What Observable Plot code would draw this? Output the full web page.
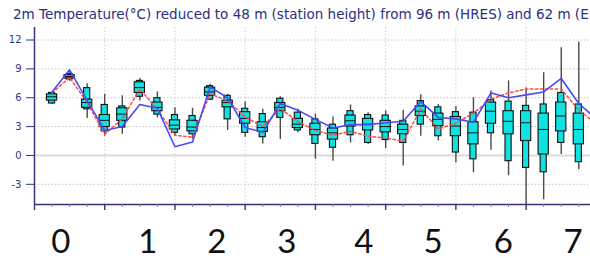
<!DOCTYPE html>
<html><head><meta charset="utf-8">
<script src="https://cdn.jsdelivr.net/npm/d3@7"></script>
<script src="https://cdn.jsdelivr.net/npm/@observablehq/plot@0.6"></script>
<style>
body{margin:0;background:#fff;}
#wrap{position:relative;width:590px;height:258px;overflow:hidden;}
#title{position:absolute;left:13px;top:6px;width:577px;overflow:hidden;white-space:nowrap;font:13.5px "DejaVu Sans";color:#2e2e80;}
#chart{position:absolute;left:0;top:0;}
</style></head><body>
<div id="wrap"><div id="chart"></div><div id="title"></div></div>
<script>
const titleText = "2m Temperature(°C) reduced to 48 m (station height) from 96 m (HRES) and 62 m (ENS)";
// forecast steps (hours) of the ensemble boxes
const boxHours = [6,12,18,24,30,36,42,48,54,60,66,72,78,84,90,96,102,108,114,120,126,132,138,144,150,156,162,168,174,180,186];
const ensMin = [5.3,7.7,3.85,2.0,2.2,5.65,3.9,2.0,1.7,5.7,2.6,1.9,1.2,1.65,2.35,-0.4,-0.6,1.3,1.15,0.7,-1.1,2.0,1.5,-0.75,-1.8,0.55,-2.1,-5.8,-4.6,0.1,-1.5];
const ensP10 = [5.4,7.9,4.8,2.5,2.9,6.1,4.25,2.35,2.2,5.8,3.75,2.35,1.9,3.9,2.6,1.2,0.8,2.1,1.3,1.6,1.3,3.2,2.0,0.3,-0.4,2.3,-0.6,-1.3,-1.75,1.3,-0.7];
const ensP25 = [5.7,8.0,4.95,2.95,3.6,6.5,4.6,2.7,2.5,6.2,5.0,3.3,2.45,4.6,2.85,2.1,1.65,3.0,2.6,2.4,2.2,4.1,3.05,2.0,1.15,3.3,2.2,1.5,0.1,2.5,1.15];
const ensMed = [6.1,8.2,5.5,3.65,4.3,7.05,5.0,3.15,2.95,6.6,5.5,3.85,2.9,5.0,3.25,2.7,2.35,3.6,3.25,3.0,2.7,4.6,3.75,3.05,2.35,4.6,3.55,3.4,2.7,4.1,2.7];
const ensP75 = [6.35,8.35,5.8,4.2,4.9,7.6,5.5,3.65,3.6,7.05,5.7,4.5,3.45,5.45,3.8,3.3,2.8,4.15,3.8,3.6,3.2,5.1,4.35,4.0,3.45,5.5,4.6,4.6,4.35,5.5,4.35];
const ensP90 = [6.5,8.45,7.0,5.25,5.1,7.75,5.95,4.2,4.1,7.2,6.2,4.85,4.3,5.9,4.45,3.75,3.2,4.6,4.2,4.15,3.6,5.65,5.0,4.5,4.45,5.75,5.6,5.15,5.3,6.5,5.3];
const ensMax = [6.6,8.6,7.45,6.35,6.2,8.0,6.6,4.95,4.9,7.4,6.35,5.55,4.8,6.1,4.8,4.3,4.0,5.25,4.45,4.65,4.7,6.3,5.3,5.1,6.0,6.7,7.75,7.0,8.6,11.2,11.8];
// deterministic lines (hours)
const lineHours = [6,12,18,24,30,36,42,48,54,60,66,72,78,84,90,96,102,108,114,120,126,132,138,144,150,156,162,168,174,180,186,192];
const hres = [6.6,8.9,5.7,2.6,3.0,5.3,4.9,0.9,1.4,7.1,6.0,2.9,2.4,5.4,4.7,3.75,2.85,3.2,3.2,3.4,3.55,5.6,3.95,3.8,3.45,6.5,6.0,6.3,6.6,8.0,5.4,3.8];
const control = [6.5,8.1,5.5,2.2,3.8,6.9,4.8,2.1,1.9,6.4,5.7,4.0,3.0,4.9,3.5,2.6,2.1,2.5,2.0,1.8,1.5,4.8,2.75,3.35,4.4,5.85,6.5,6.9,6.9,6.9,4.7,3.3];
// axes
const yTicks = [12,9,6,3,0,-3];
const yGridDotted = [12,9,6,3,-3];
const dayHours = [0,24,48,72,96,120,144,168];
const minorHours = [6,12,18,30,36,42,54,60,66,78,84,90,102,108,114,126,132,138,150,156,162,174,180,186];
const dayLabels = ["0","1","2","3","4","5","6","7"];
const dayLabelHours = [9,38.7,62.3,86.2,112.5,136.2,160.2,184];

document.getElementById("title").textContent = titleText;

const boxes = boxHours.map((h,i)=>({h, min:ensMin[i], p10:ensP10[i], p25:ensP25[i], med:ensMed[i], p75:ensP75[i], p90:ensP90[i], max:ensMax[i]}));
const lines = lineHours.map((h,i)=>({h, hres:hres[i], control:control[i]}));
const labels = dayLabels.map((t,i)=>({t, h:dayLabelHours[i]}));

const navy = "#34347e";
const cyan = "#10e2e2";
const wHalf = 1.75, nHalf = 1.05; // box half-widths in hours
const yMin = -5.1;

const chart = Plot.plot({
  width: 590, height: 258,
  marginTop: 27, marginBottom: 54, marginLeft: 34, marginRight: 0,
  x: {domain: [0, 190]},
  y: {domain: [yMin, 13.3]},
  style: {background: "transparent", fontFamily: "DejaVu Sans", overflow: "visible"},
  marks: [
    Plot.ruleY(yGridDotted, {stroke: "#c4c4c4", strokeDasharray: "1.5,2"}),
    Plot.ruleY([0], {stroke: "#dadada", strokeWidth: 2}),
    Plot.ruleX(dayHours.slice(1), {stroke: "#cfcfcf", strokeDasharray: "1.5,2"}),
    Plot.ruleX(boxes, {x: "h", y1: "min", y2: "max", stroke: "#4a4a4a", strokeWidth: 1.4, clip: true}),
    Plot.rect(boxes, {x1: d => d.h - nHalf, x2: d => d.h + nHalf, y1: "p10", y2: "p90", fill: cyan, stroke: "#111", strokeWidth: 1.1, clip: true}),
    Plot.rect(boxes, {x1: d => d.h - wHalf, x2: d => d.h + wHalf, y1: "p25", y2: "p75", fill: cyan, stroke: "#111", strokeWidth: 1.1, clip: true}),
    Plot.ruleY(boxes, {y: "med", x1: d => d.h - wHalf, x2: d => d.h + wHalf, stroke: "#111", strokeWidth: 1, clip: true}),
    Plot.line(lines, {x: "h", y: "control", stroke: "#ff4a4a", strokeWidth: 1.5, strokeDasharray: "2.5,2.5", clip: true}),
    Plot.line(lines, {x: "h", y: "hres", stroke: "#4a4af2", strokeWidth: 1.6, clip: true}),
    Plot.ruleX([0], {stroke: navy, strokeWidth: 1.5}),
    Plot.ruleY([yMin], {stroke: navy, strokeWidth: 1.5}),
    Plot.axisY({ticks: yTicks, tickSize: 8, tickPadding: 5, fontSize: 10, color: navy, label: null, tickFormat: d => String(d)}),
    Plot.axisX({ticks: minorHours, tickSize: 3, tickFormat: () => "", label: null, color: "#7a7aa8"}),
    Plot.axisX({ticks: dayHours, tickSize: 6, tickFormat: () => "", label: null, color: navy, strokeWidth: 1.4}),
    Plot.text(labels, {x: "h", text: "t", frameAnchor: "bottom", lineAnchor: "bottom", dy: 48, fontSize: 33, fontFamily: "Lato", fill: "#111"})
  ]
});
document.getElementById("chart").appendChild(chart);
</script>
</body></html>
